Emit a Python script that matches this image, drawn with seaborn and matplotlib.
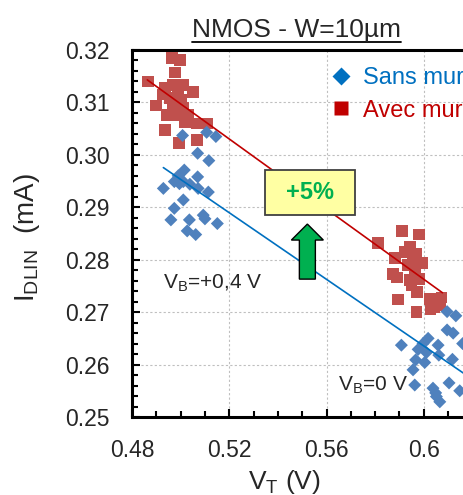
import numpy as np
import pandas as pd
import matplotlib
matplotlib.use("Agg")
import matplotlib.pyplot as plt
from matplotlib.lines import Line2D
from matplotlib.patches import Rectangle, FancyArrow
from matplotlib.ticker import MultipleLocator
import seaborn as sns

# --- data ---
# "Sans mur" (blue diamonds): VB=+0,4 V cluster then VB=0 V cluster
sans_vt = [0.5008, 0.5107, 0.5145, 0.5070, 0.5116, 0.5015, 0.4974, 0.4929,
           0.5011, 0.5070, 0.5038, 0.5072, 0.5114, 0.5011, 0.4974, 0.4960,
           0.5036, 0.5093, 0.5100, 0.5151, 0.5027, 0.5062, 0.4990, 0.4995,
           0.6096, 0.6132, 0.6096, 0.6121, 0.6018, 0.5908, 0.5997, 0.6059,
           0.5977, 0.6011, 0.6062, 0.6118, 0.5967, 0.6004, 0.5956, 0.5963,
           0.6038, 0.6104, 0.6148, 0.6052, 0.6066, 0.6049, 0.6160]
sans_id = [0.3037, 0.3043, 0.3035, 0.3003, 0.2989, 0.2971, 0.2949, 0.2936,
           0.2949, 0.2958, 0.2944, 0.2936, 0.2929, 0.2914, 0.2898, 0.2876,
           0.2876, 0.2885, 0.2878, 0.2869, 0.2855, 0.2848, 0.2960, 0.2945,
           0.2701, 0.2693, 0.2666, 0.2660, 0.2650, 0.2637, 0.2640, 0.2637,
           0.2629, 0.2623, 0.2618, 0.2610, 0.2609, 0.2604, 0.2590, 0.2561,
           0.2555, 0.2565, 0.2550, 0.2539, 0.2529, 0.2546, 0.2640]

# "Avec mur" (red squares)
avec_vt = [0.4963, 0.4997, 0.4977, 0.4865, 0.4970, 0.5011, 0.4936, 0.5052,
           0.4929, 0.4990, 0.5004, 0.4899, 0.4970, 0.4945, 0.4990, 0.5031,
           0.5018, 0.5066, 0.5107, 0.4936, 0.5066, 0.4994, 0.4984, 0.5011,
           0.4955,
           0.5911, 0.5981, 0.5812, 0.5943, 0.5922, 0.5967, 0.5881, 0.5956,
           0.5995, 0.5963, 0.5874, 0.5890, 0.5943, 0.5981, 0.5950, 0.5973,
           0.5895, 0.6025, 0.6073, 0.6041, 0.5970, 0.6028, 0.6066, 0.5935]
avec_id = [0.3184, 0.3181, 0.3157, 0.3140, 0.3133, 0.3133, 0.3127, 0.3120,
           0.3115, 0.3114, 0.3105, 0.3094, 0.3095, 0.3076, 0.3076, 0.3076,
           0.3063, 0.3060, 0.3060, 0.3047, 0.3028, 0.3022, 0.3082, 0.3089,
           0.3108,
           0.2855, 0.2848, 0.2832, 0.2825, 0.2815, 0.2812, 0.2803, 0.2799,
           0.2794, 0.2780, 0.2773, 0.2766, 0.2761, 0.2763, 0.2752, 0.2739,
           0.2724, 0.2725, 0.2728, 0.2710, 0.2701, 0.2705, 0.2714, 0.2790]

# trend lines (end points)
avec_fit_vt = [0.4863, 0.6077]
avec_fit_id = [0.3143, 0.2737]
sans_fit_vt = [0.4929, 0.6200]
sans_fit_id = [0.29757, 0.2572]

x_ticks = [0.48, 0.52, 0.56, 0.60]
x_labels = ["0.48", "0.52", "0.56", "0.6"]
y_ticks = [0.25, 0.26, 0.27, 0.28, 0.29, 0.30, 0.31, 0.32]
y_labels = ["0.25", "0.26", "0.27", "0.28", "0.29", "0.30", "0.31", "0.32"]

df = pd.DataFrame({
    "VT": avec_vt + sans_vt,
    "ID": avec_id + sans_id,
    "groupe": ["Avec mur"] * len(avec_vt) + ["Sans mur"] * len(sans_vt),
})

sns.set_style("white")
plt.rcParams["font.family"] = ["Liberation Sans", "DejaVu Sans"]
plt.rcParams["mathtext.fontset"] = "custom"
plt.rcParams["mathtext.rm"] = "Liberation Sans"

fig = plt.figure(figsize=(4.63, 4.95), dpi=100)
ax = fig.add_axes([132 / 463, 78 / 495, 389 / 463, 367 / 495])

sns.scatterplot(data=df, x="VT", y="ID", hue="groupe", style="groupe", size="groupe",
                palette={"Sans mur": "#4F81BD", "Avec mur": "#C0504D"},
                markers={"Sans mur": "D", "Avec mur": "s"},
                sizes={"Sans mur": 44, "Avec mur": 72},
                linewidth=0, legend=False, ax=ax, zorder=3)

ax.plot(avec_fit_vt, avec_fit_id, color="#C00000", lw=1.2, zorder=4)
ax.plot(sans_fit_vt, sans_fit_id, color="#0070C0", lw=1.2, zorder=4)

# axes formatting
ax.set_xlim(0.48, 0.64)
ax.set_ylim(0.25, 0.32)
ax.set_xticks(x_ticks)
ax.set_xticklabels(x_labels)
ax.set_yticks(y_ticks)
ax.set_yticklabels(y_labels)
ax.xaxis.set_minor_locator(MultipleLocator(0.01))
ax.yaxis.set_minor_locator(MultipleLocator(0.002))
ax.tick_params(which="both", direction="in", bottom=True, left=True, top=False, right=False,
               width=1.5, color="black", labelsize=16.5, pad=16)
ax.tick_params(which="major", length=6)
ax.tick_params(which="minor", length=4)
ax.grid(which="major", color="#BFBFBF", linestyle=(0, (2, 2)), linewidth=0.8)
ax.set_axisbelow(True)
for sp in ax.spines.values():
    sp.set_color("black")
    sp.set_linewidth(2.2)

ax.set_xlabel(r"V$_{\mathregular{T}}$ (V)", fontsize=19, va="baseline")
ax.xaxis.set_label_coords(0.391, -0.197)
ax.set_ylabel(r"I$_{\mathregular{DLIN}}$  (mA)", fontsize=20, va="center")
ax.yaxis.set_label_coords(-0.27, 0.488)

# legend
handles = [Line2D([], [], marker="D", color="none", markerfacecolor="#0070C0",
                  markeredgecolor="none", markersize=9, label="Sans mur"),
           Line2D([], [], marker="s", color="none", markerfacecolor="#C00000",
                  markeredgecolor="none", markersize=10, label="Avec mur")]
ax.legend(handles=handles, loc="upper left", bbox_to_anchor=(0.5064, 0.9537),
          frameon=False, fontsize=17, borderpad=0, borderaxespad=0,
          handlelength=1.0, handletextpad=0.45, labelspacing=0.45,
          labelcolor=["#0070C0", "#C00000"])

# annotations
ax.text(0.4927, 0.2746, r"V$_{\mathregular{B}}$=+0,4 V", fontsize=15, va="baseline", zorder=6)
ax.text(0.5647, 0.2551, r"V$_{\mathregular{B}}$=0 V", fontsize=15, va="baseline", zorder=6)

ax.add_patch(Rectangle((0.5347, 0.28853), 0.0370, 0.00858, facecolor="#FFFFA3",
                       edgecolor="#404040", lw=1.3, zorder=6))
ax.text(0.55316, 0.29282, "+5%", fontsize=17, fontweight="bold", color="#00B050",
        ha="center", va="center", zorder=7)
ax.add_patch(FancyArrow(0.55213, 0.2763, 0, 0.0105, width=0.00658, head_width=0.01315,
                        head_length=0.00305, length_includes_head=True,
                        facecolor="#00B050", edgecolor="black", lw=1.0, zorder=6))

# underlined title
title = fig.text(296 / 463, 1 - 37 / 495, "NMOS - W=10µm", ha="center", va="baseline", fontsize=19)
fig.canvas.draw()
bb = title.get_window_extent()
W, H = fig.bbox.width, fig.bbox.height
y_line = 1 - 42 / 495
fig.add_artist(Line2D([bb.x0 / W, bb.x1 / W], [y_line, y_line], color="black", lw=1.3,
                      transform=fig.transFigure))

fig.savefig("out.png", dpi=100)
plt.close(fig)
